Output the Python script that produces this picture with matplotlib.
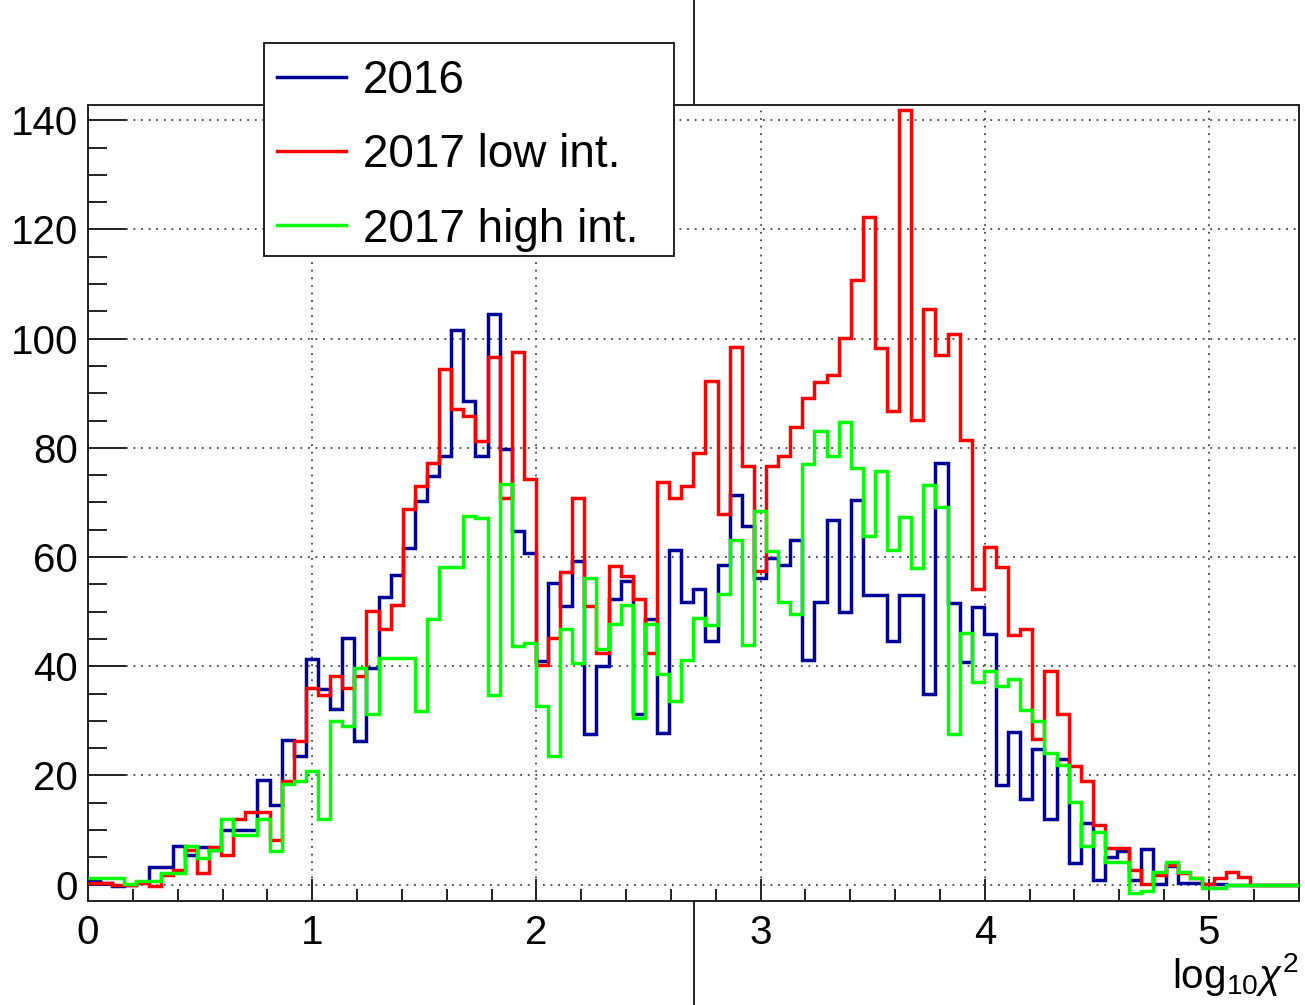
import matplotlib
matplotlib.use('Agg')
import matplotlib.pyplot as plt
import numpy as np
from matplotlib.lines import Line2D
from matplotlib.patches import Rectangle
from matplotlib.ticker import MultipleLocator

plt.rcParams['font.family'] = ['Liberation Sans', 'DejaVu Sans']
plt.rcParams['mathtext.fontset'] = 'custom'
plt.rcParams['mathtext.rm'] = 'Liberation Sans'
plt.rcParams['mathtext.it'] = 'Liberation Sans:italic'

# ---- data: 100 bins of log10(chi2) from 0 to 5.4 ----
n_bins = 100
x_min, x_max = 0.0, 5.4

labels = ["2016", "2017 low int.", "2017 high int."]

counts_2016 = [
    0.6, 0.3, -0.3, 0.0, 0.5, 3.2, 3.2, 7.1, 5.5, 6.8,
    6.4, 10.0, 10.0, 10.0, 19.1, 14.5, 26.4, 23.5, 41.3, 35.8,
    32.1, 45.2, 26.3, 39.7, 52.6, 56.8, 61.7, 70.3, 74.9, 78.5,
    101.5, 88.6, 78.5, 104.5, 79.8, 64.8, 60.8, 41.0, 55.3, 51.0,
    59.3, 27.5, 40.0, 52.3, 55.6, 31.2, 48.6, 27.8, 61.3, 51.7,
    54.1, 44.7, 58.6, 71.3, 65.6, 56.2, 59.8, 58.6, 63.1, 41.1,
    51.7, 66.8, 50.0, 70.5, 53.0, 53.0, 44.6, 53.0, 53.0, 35.0,
    77.3, 51.6, 40.7, 50.8, 45.9, 18.2, 27.9, 15.6, 24.8, 12.1,
    23.0, 3.9, 11.2, 0.9, 5.0, 6.2, 0.9, 6.5, 0.1, 3.5,
    0.3, 0.3, 0.1, 0.1, 0.0, 0.0, 0.0, 0.0, 0.0, 0.0,
]

counts_2017_low = [
    0.3, 0.3, 0.0, 0.0, 0.3, -0.3, 1.8, 2.7, 6.4, 2.1,
    6.8, 5.5, 12.0, 13.3, 13.3, 8.2, 19.0, 26.3, 36.1, 34.8,
    38.2, 36.1, 38.2, 50.1, 46.8, 51.3, 68.8, 73.0, 77.3, 94.4,
    87.1, 85.9, 81.3, 96.6, 70.9, 97.5, 74.3, 40.3, 45.2, 57.2,
    70.9, 51.0, 42.5, 58.4, 56.5, 52.3, 42.5, 73.7, 70.9, 73.0,
    79.1, 92.2, 67.8, 98.4, 76.6, 57.4, 76.6, 78.6, 83.9, 89.2,
    92.1, 93.3, 100.2, 110.8, 122.2, 98.2, 86.8, 141.8, 85.1, 105.5,
    97.1, 100.9, 81.4, 54.1, 61.9, 58.2, 45.8, 46.8, 26.6, 39.2,
    31.3, 21.8, 19.0, 11.0, 6.7, 6.7, 2.7, 0.1, 1.8, 3.6,
    2.1, 1.2, 0.1, 1.2, 2.3, 1.4, 0.0, 0.0, 0.0, 0.0,
]

counts_2017_high = [
    1.2, 1.2, 1.2, 0.1, 0.7, 0.7, 2.1, 2.1, 7.0, 4.8,
    6.4, 12.1, 9.1, 9.1, 12.1, 6.2, 18.5, 18.9, 20.8, 12.0,
    30.0, 29.0, 39.7, 31.2, 41.6, 41.6, 41.6, 31.8, 48.6, 58.1,
    58.1, 67.5, 67.2, 34.8, 73.3, 43.7, 44.3, 32.7, 23.5, 46.8,
    40.6, 56.2, 43.1, 47.7, 51.3, 30.5, 47.7, 38.5, 33.6, 41.1,
    48.8, 47.6, 53.3, 63.1, 43.9, 68.4, 61.1, 51.7, 49.6, 77.0,
    83.1, 78.6, 84.8, 76.4, 63.8, 75.8, 61.3, 67.3, 58.0, 73.2,
    69.2, 27.5, 46.1, 37.1, 39.2, 36.3, 37.6, 31.9, 29.9, 24.2,
    22.0, 15.2, 7.0, 9.7, 4.2, 4.2, -1.5, -1.2, 2.3, 4.1,
    2.4, 1.2, -0.6, -0.6, 0.0, 0.0, 0.0, 0.0, 0.0, 0.0,
]

colors = ["#000099", "#ff0000", "#00ff00"]

# ---- figure ----
W, H = 1305, 1005
fig = plt.figure(figsize=(W / 100, H / 100), dpi=100)

ax_l, ax_r, ax_t, ax_b = 88, 1298.7, 105, 901
ax = fig.add_axes([ax_l / W, 1 - ax_b / H, (ax_r - ax_l) / W, (ax_b - ax_t) / H])

edges = np.linspace(x_min, x_max, n_bins + 1)
series = [counts_2016, counts_2017_low, counts_2017_high]
handles = []
for vals, c, lab in zip(series, colors, labels):
    ax.stairs(vals, edges, color=c, lw=2.5, baseline=None, zorder=3)
    handles.append(Line2D([], [], color=c, lw=2.5, label=lab))

ax.set_xlim(x_min, x_max)
ax.set_ylim(-3.0, 142.8)

ax.xaxis.set_major_locator(MultipleLocator(1))
ax.xaxis.set_minor_locator(MultipleLocator(0.2))
ax.yaxis.set_major_locator(MultipleLocator(20))
ax.yaxis.set_minor_locator(MultipleLocator(5))

ax.tick_params(axis='both', which='both', direction='in', top=False, right=False,
               colors='#222222')
ax.tick_params(axis='y', which='major', length=27, width=1.4, pad=7, labelsize=29,
               labelcolor='black')
ax.tick_params(axis='y', which='minor', length=13.5, width=1.4)
ax.tick_params(axis='x', which='major', length=16, width=1.4, pad=9, labelsize=29,
               labelcolor='black')
ax.tick_params(axis='x', which='minor', length=8.5, width=1.4)

ax.grid(True, which='major', color='#444444', linestyle=(0, (1, 3.2)), linewidth=1.3)
for s in ax.spines.values():
    s.set_linewidth(1.4)
    s.set_color('#222222')

# x-axis title
fig.text(1299 / W, 1 - 988 / H, r'$\mathrm{log}_{10}\chi^{2}$', ha='right',
         va='baseline', fontsize=29)

# stray vertical line of the canvas (behind the axes)
fig.add_artist(Line2D([694 / W, 694 / W], [0, 1], transform=fig.transFigure,
                      color='#222222', lw=1.4, zorder=-1))

# legend box
lx0, lx1, ly0, ly1 = 264, 674, 43, 256
fig.add_artist(Rectangle((lx0 / W, 1 - ly1 / H), (lx1 - lx0) / W, (ly1 - ly0) / H,
                         transform=fig.transFigure, facecolor='white',
                         edgecolor='#222222', lw=1.4, zorder=5))
leg = fig.legend(handles=handles, loc='upper left',
                 bbox_to_anchor=(277 / W, 1 - 59 / H), bbox_transform=fig.transFigure,
                 frameon=False, fontsize=33, handlelength=1.5, handletextpad=0.37,
                 labelspacing=0.66, borderpad=0, borderaxespad=0)
leg.set_zorder(6)

fig.savefig('out.png', dpi=100)
